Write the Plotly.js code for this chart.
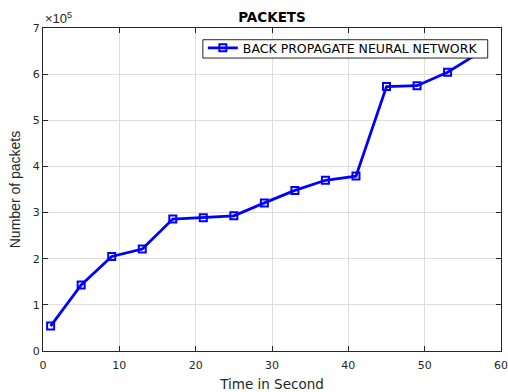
<!DOCTYPE html>
<html>
<head>
<meta charset="utf-8">
<script src="https://cdn.plot.ly/plotly-3.0.1.min.js"></script>
<style>html,body{margin:0;padding:0;background:#fff;}#chart{width:508px;height:392px;}</style>
</head>
<body>
<div id="chart"></div>
<script>
const timeSeconds = [1, 5, 9, 13, 17, 21, 25, 29, 33, 37, 41, 45, 49, 53, 57];
const packets = [54000, 143000, 205000, 221000, 286000, 289000, 293000, 321000, 348000, 370000, 379000, 573000, 575000, 604000, 645000];
const seriesName = 'BACK PROPAGATE NEURAL NETWORK';
const yTickVals = [0, 100000, 200000, 300000, 400000, 500000, 600000, 700000];
const yTickText = ['0', '1', '2', '3', '4', '5', '6', '7'];
const xTickVals = [0, 10, 20, 30, 40, 50, 60];

const axisColor = '#262626';
const gridColor = '#dedede';

const trace = {
  x: timeSeconds,
  y: packets,
  name: seriesName,
  type: 'scatter',
  mode: 'lines+markers',
  line: {color: '#0000ff', width: 2.8},
  marker: {symbol: 'square-open', size: 7, color: '#0000ff', line: {width: 2, color: '#0000ff'}},
  showlegend: true,
  cliponaxis: true
};

const layout = {
  width: 508,
  height: 392,
  margin: {l: 43.3, r: 6.7, t: 28.3, b: 41},
  paper_bgcolor: '#ffffff',
  plot_bgcolor: '#ffffff',
  font: {family: 'DejaVu Sans, Arial, sans-serif', color: axisColor, size: 11},
  title: {
    text: '<b>PACKETS</b>',
    font: {family: 'DejaVu Sans, Arial, sans-serif', size: 13.5, color: '#000000'},
    x: 0.5, xref: 'paper', xanchor: 'center',
    y: 0.957, yref: 'container', yanchor: 'middle'
  },
  xaxis: {
    range: [0, 60],
    tickvals: xTickVals,
    ticks: 'inside',
    ticklen: 5,
    tickcolor: axisColor,
    ticklabelstandoff: 4,
    showline: true,
    linecolor: axisColor,
    linewidth: 1,
    mirror: 'ticks',
    showgrid: true,
    gridcolor: gridColor,
    zeroline: false,
    tickfont: {family: 'DejaVu Sans, Arial, sans-serif', size: 11, color: axisColor},
    title: {text: 'Time in Second', font: {family: 'DejaVu Sans, Arial, sans-serif', size: 13.5, color: axisColor}, standoff: 8}
  },
  yaxis: {
    range: [0, 700000],
    tickvals: yTickVals,
    ticktext: yTickText,
    ticks: 'inside',
    ticklen: 5,
    tickcolor: axisColor,
    showline: true,
    linecolor: axisColor,
    linewidth: 1,
    mirror: 'ticks',
    showgrid: true,
    gridcolor: gridColor,
    zeroline: false,
    tickfont: {family: 'DejaVu Sans, Arial, sans-serif', size: 11, color: axisColor},
    title: {text: 'Number of packets', font: {family: 'Liberation Sans, Arial, sans-serif', size: 14, color: axisColor}, standoff: 8}
  },
  legend: {
    x: 0.349, y: 0.984, xref: 'paper', yref: 'paper',
    xanchor: 'left', yanchor: 'top',
    bgcolor: 'rgba(0,0,0,0)',
    borderwidth: 0,
    font: {family: 'DejaVu Sans, Arial, sans-serif', size: 12.5, color: '#000000'},
    itemwidth: 30,
    tracegroupgap: 0
  },
  shapes: [{
    type: 'rect', xref: 'paper', yref: 'paper',
    x0: 0.349, x1: 0.971, y0: 0.907, y1: 0.9637,
    fillcolor: '#ffffff',
    line: {color: axisColor, width: 1},
    layer: 'above'
  }],
  annotations: [{
    text: '×10<sup>5</sup>',
    xref: 'paper', yref: 'paper',
    x: 0, y: 1,
    xanchor: 'left', yanchor: 'bottom',
    showarrow: false,
    yshift: 0,
    font: {family: 'Liberation Sans, Arial, sans-serif', size: 13, color: axisColor}
  }]
};

Plotly.newPlot('chart', [trace], layout, {displayModeBar: false, staticPlot: true});
</script>
</body>
</html>
